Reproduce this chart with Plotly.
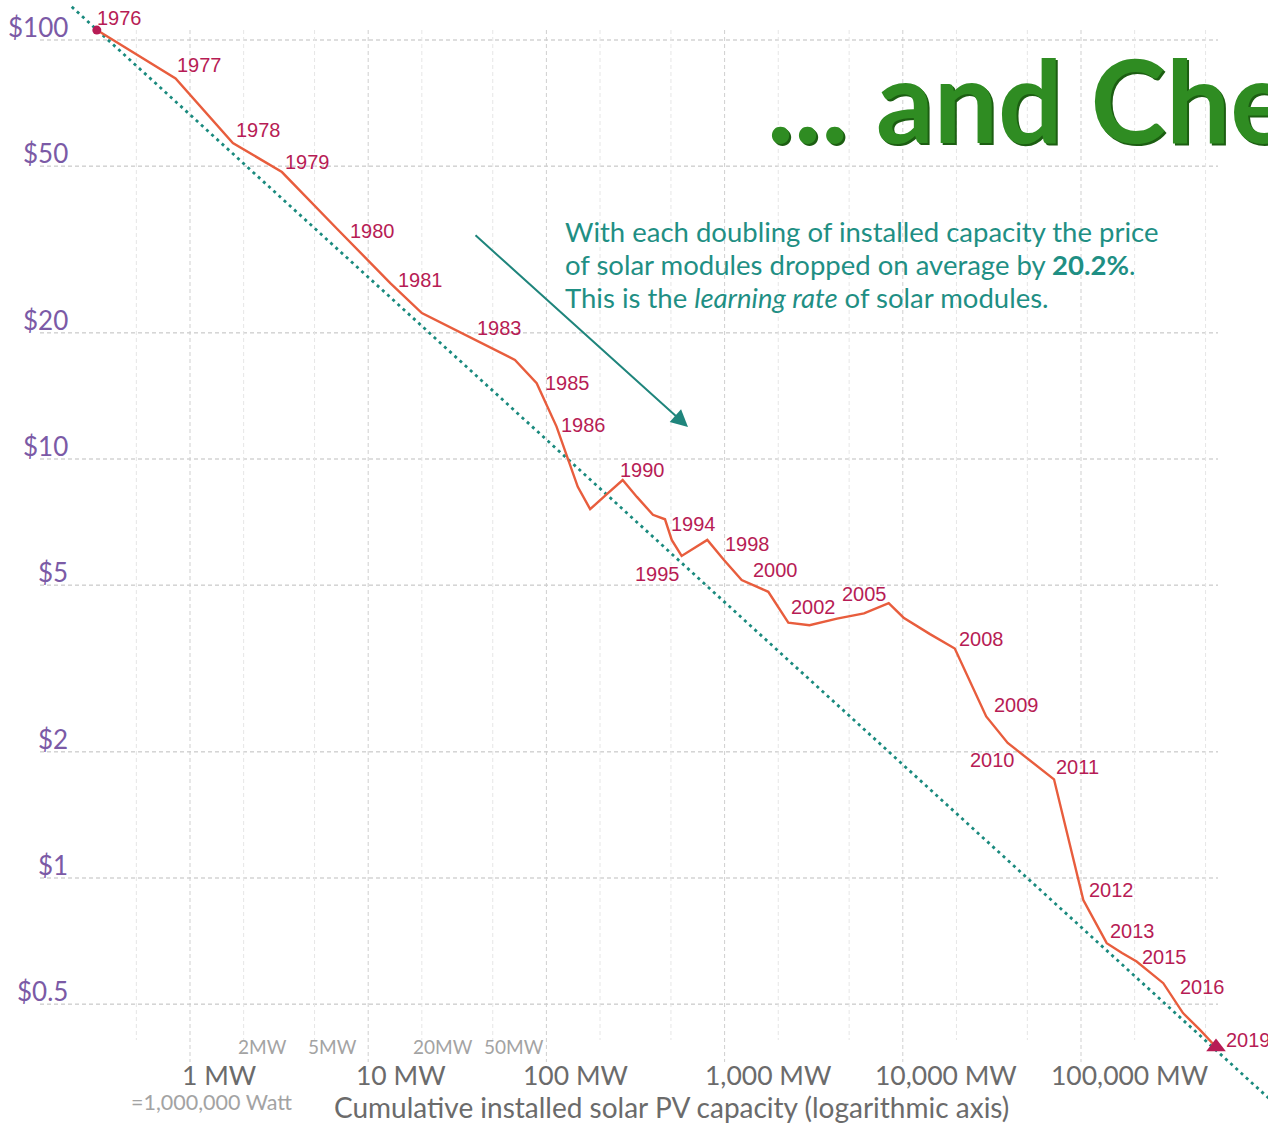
import numpy as np
import plotly.graph_objects as go

# ---------------- data ----------------
years = list(range(1976, 2020))
capacity_mw = [0.30, 0.83, 1.74, 3.28, 6.7, 13.3, 20.0, 36.3, 66.6, 88.2,
               114, 150, 176, 216, 268, 322, 396, 463, 505, 574,
               673, 800, 992, 1247, 1759, 2278, 2995, 4274, 6059, 8336,
               10104, 14213, 19576, 29377, 38786, 70567, 103040, 139440, 169940, 205300,
               289600, 373600, 465300, 572300]
price_usd = [105.6, 81.0, 56.8, 48.4, 35.4, 26.3, 22.3, 19.65, 17.24, 15.17,
             11.95, 8.58, 7.59, 8.21, 8.91, 8.12, 7.36, 7.18, 6.41, 5.87,
             6.13, 6.41, 5.74, 5.14, 4.82, 4.07, 4.01, 4.16, 4.28, 4.53,
             4.18, 3.82, 3.53, 2.43, 2.10, 1.72, 0.886, 0.699, 0.662, 0.632,
             0.561, 0.476, 0.434, 0.395]

label_years = [1976, 1977, 1978, 1979, 1980, 1981, 1983, 1985, 1986, 1990, 1994, 1995,
               1998, 2000, 2002, 2005, 2008, 2009, 2010, 2011, 2012, 2013, 2015, 2016, 2019]

trend_capacity = [0.217, 2.0e6]
trend_price = [120.0, 0.239]

price_ticks = [100, 50, 20, 10, 5, 2, 1, 0.5]
price_tick_labels = ["$100", "$50", "$20", "$10", "$5", "$2", "$1", "$0.5"]
cap_major = [1, 10, 100, 1000, 10000, 100000]
cap_major_labels = ["1 MW", "10 MW", "100 MW", "1,000 MW", "10,000 MW", "100,000 MW"]
cap_minor = [0.5, 2, 5, 20, 50, 200, 500, 2000, 5000, 20000, 50000, 200000, 500000]
cap_minor_label_vals = [2, 5, 20, 50]
cap_minor_labels = ["2MW", "5MW", "20MW", "50MW"]

note_lines = ["With each doubling of installed capacity the price",
              "of solar modules dropped on average by <b>20.2%</b>.",
              "This is the <i>learning rate</i> of solar modules."]
title_text = "<b>... and Cheaper</b>"

# ---------------- styling / layout helpers ----------------
W, H = 1268, 1125
XR = [-1.0662, 6.0494]   # log10 MW range over full width
YR = [-0.5895, 2.0955]   # log10 $ range over full height (bottom, top)

def px_to_cap(px):
    return 10 ** (XR[0] + px / W * (XR[1] - XR[0]))

def py_to_price(py):
    return 10 ** (YR[1] - py / H * (YR[1] - YR[0]))

# pixel offsets of year labels relative to their point (right, down)
label_dx = [23, 24, 26, 26, 35, 30, 32, 31, 27, 20, 22, -24, 24, 7, 4, -24, 27, 30, -15, 23, 28, 26, 28, 39, 32]
label_dy = [-12, -13, -13, -10, 2, -3, -8, 0, -2, -10, -16, 18, -16, -22, -18, -9, -9, -11, 17, -12, -10, -12, -5, 4, -7]
major_label_dx = [29, 33, 30, 44, 43, 49]
minor_label_dx = [19, 18, 21, 21]
note_line_y = [231, 264, 297]

LINE_C = "#e85d3d"
YEAR_C = "#b71c55"
PURPLE = "#7b5aa6"
TEAL = "#1f8f84"
GRAY = "#6b6b6b"
LGRAY = "#a3a3a3"

fig = go.Figure()

# horizontal grid lines
for p in price_ticks:
    fig.add_trace(go.Scatter(x=[px_to_cap(40), px_to_cap(1218)], y=[p, p], mode="lines",
                             line=dict(color="#bdbdbd", width=1, dash="4px,3px"),
                             hoverinfo="skip"))
# minor vertical grid lines
for c in cap_minor:
    fig.add_trace(go.Scatter(x=[c, c], y=[py_to_price(30), py_to_price(1040)], mode="lines",
                             line=dict(color="#e6e6e6", width=1, dash="4px,3px"),
                             hoverinfo="skip"))
# major vertical grid lines
for c in cap_major:
    fig.add_trace(go.Scatter(x=[c, c], y=[py_to_price(30), py_to_price(1062)], mode="lines",
                             line=dict(color="#cfcfcf", width=1, dash="4px,3px"),
                             hoverinfo="skip"))

# trend (learning-rate) line
fig.add_trace(go.Scatter(x=trend_capacity, y=trend_price, mode="lines",
                         line=dict(color="#1a8a7e", width=2.8, dash="3px,4px"),
                         hoverinfo="skip"))

# price curve
fig.add_trace(go.Scatter(x=capacity_mw, y=price_usd, mode="lines",
                         line=dict(color=LINE_C, width=2.4), hoverinfo="skip"))
# start and end markers
fig.add_trace(go.Scatter(x=[capacity_mw[0]], y=[price_usd[0]], mode="markers",
                         marker=dict(color=YEAR_C, size=9, symbol="circle"), hoverinfo="skip"))
fig.add_trace(go.Scatter(x=[capacity_mw[-1]], y=[price_usd[-1]], mode="markers",
                         marker=dict(color=YEAR_C, size=17, symbol="triangle-up"), hoverinfo="skip"))

annotations = []
# year labels
for yr, dx, dy in zip(label_years, label_dx, label_dy):
    i = years.index(yr)
    annotations.append(dict(x=np.log10(capacity_mw[i]), y=np.log10(price_usd[i]),
                            xref="x", yref="y", text=str(yr), showarrow=False,
                            xshift=dx, yshift=-dy,
                            font=dict(family="Liberation Sans, Arial", size=20, color=YEAR_C)))
# y tick labels
for p, t in zip(price_ticks, price_tick_labels):
    annotations.append(dict(x=70 / W, y=np.log10(p), xref="paper", yref="y", text=t,
                            showarrow=False, xanchor="right", yanchor="middle", yshift=13,
                            font=dict(family="Lato", size=26, color=PURPLE)))
# x major labels
for c, t, dx in zip(cap_major, cap_major_labels, major_label_dx):
    annotations.append(dict(x=np.log10(c), y=1 - 1075 / H, xref="x", yref="paper", text=t,
                            showarrow=False, xshift=dx, xanchor="center", yanchor="middle",
                            font=dict(family="Lato", size=26.5, color=GRAY)))
# x minor labels
for c, t, dx in zip(cap_minor_label_vals, cap_minor_labels, minor_label_dx):
    annotations.append(dict(x=np.log10(c), y=1 - 1046 / H, xref="x", yref="paper", text=t,
                            showarrow=False, xshift=dx, xanchor="center", yanchor="middle",
                            font=dict(family="Lato", size=19, color=LGRAY)))
annotations.append(dict(x=212 / W, y=1 - 1102 / H, xref="paper", yref="paper",
                        text="=1,000,000 Watt", showarrow=False, xanchor="center", yanchor="middle",
                        font=dict(family="Lato", size=21.5, color=LGRAY)))
annotations.append(dict(x=671 / W, y=1 - 1107 / H, xref="paper", yref="paper",
                        text="Cumulative installed solar PV capacity (logarithmic axis)",
                        showarrow=False, xanchor="center", yanchor="middle",
                        font=dict(family="Lato", size=28, color=GRAY)))
# explanation text
for line, ly in zip(note_lines, note_line_y):
    annotations.append(dict(x=563 / W, y=1 - ly / H, xref="paper", yref="paper",
                            text=line, showarrow=False, xanchor="left", yanchor="middle",
                            align="left",
                            font=dict(family="Lato", size=27.5, color=TEAL)))
# arrow
annotations.append(dict(x=688 / W, y=1 - 427 / H, xref="paper", yref="paper", text="",
                        showarrow=True, ax=474 - 688, ay=234 - 427, arrowhead=2,
                        arrowsize=1.7, arrowwidth=2, arrowcolor="#1f857c"))
# big title (cut off at the right edge, as in the reference)
annotations.append(dict(x=765 / W, y=1 - 99 / H, xref="paper", yref="paper",
                        text=title_text, showarrow=False,
                        xanchor="left", yanchor="middle", xshift=2, yshift=-2,
                        font=dict(family="Lato", size=114, color="#1c5e12")))
annotations.append(dict(x=765 / W, y=1 - 99 / H, xref="paper", yref="paper",
                        text=title_text, showarrow=False,
                        xanchor="left", yanchor="middle",
                        font=dict(family="Lato", size=114, color="#2f8c22")))

fig.update_layout(
    width=W, height=H, autosize=False,
    margin=dict(l=0, r=0, t=0, b=0, pad=0),
    paper_bgcolor="white", plot_bgcolor="white",
    showlegend=False, hovermode=False,
    xaxis=dict(type="log", range=XR, visible=False, fixedrange=True),
    yaxis=dict(type="log", range=YR, visible=False, fixedrange=True),
    annotations=annotations,
)

fig.write_html("out.html", config={"displayModeBar": False})
